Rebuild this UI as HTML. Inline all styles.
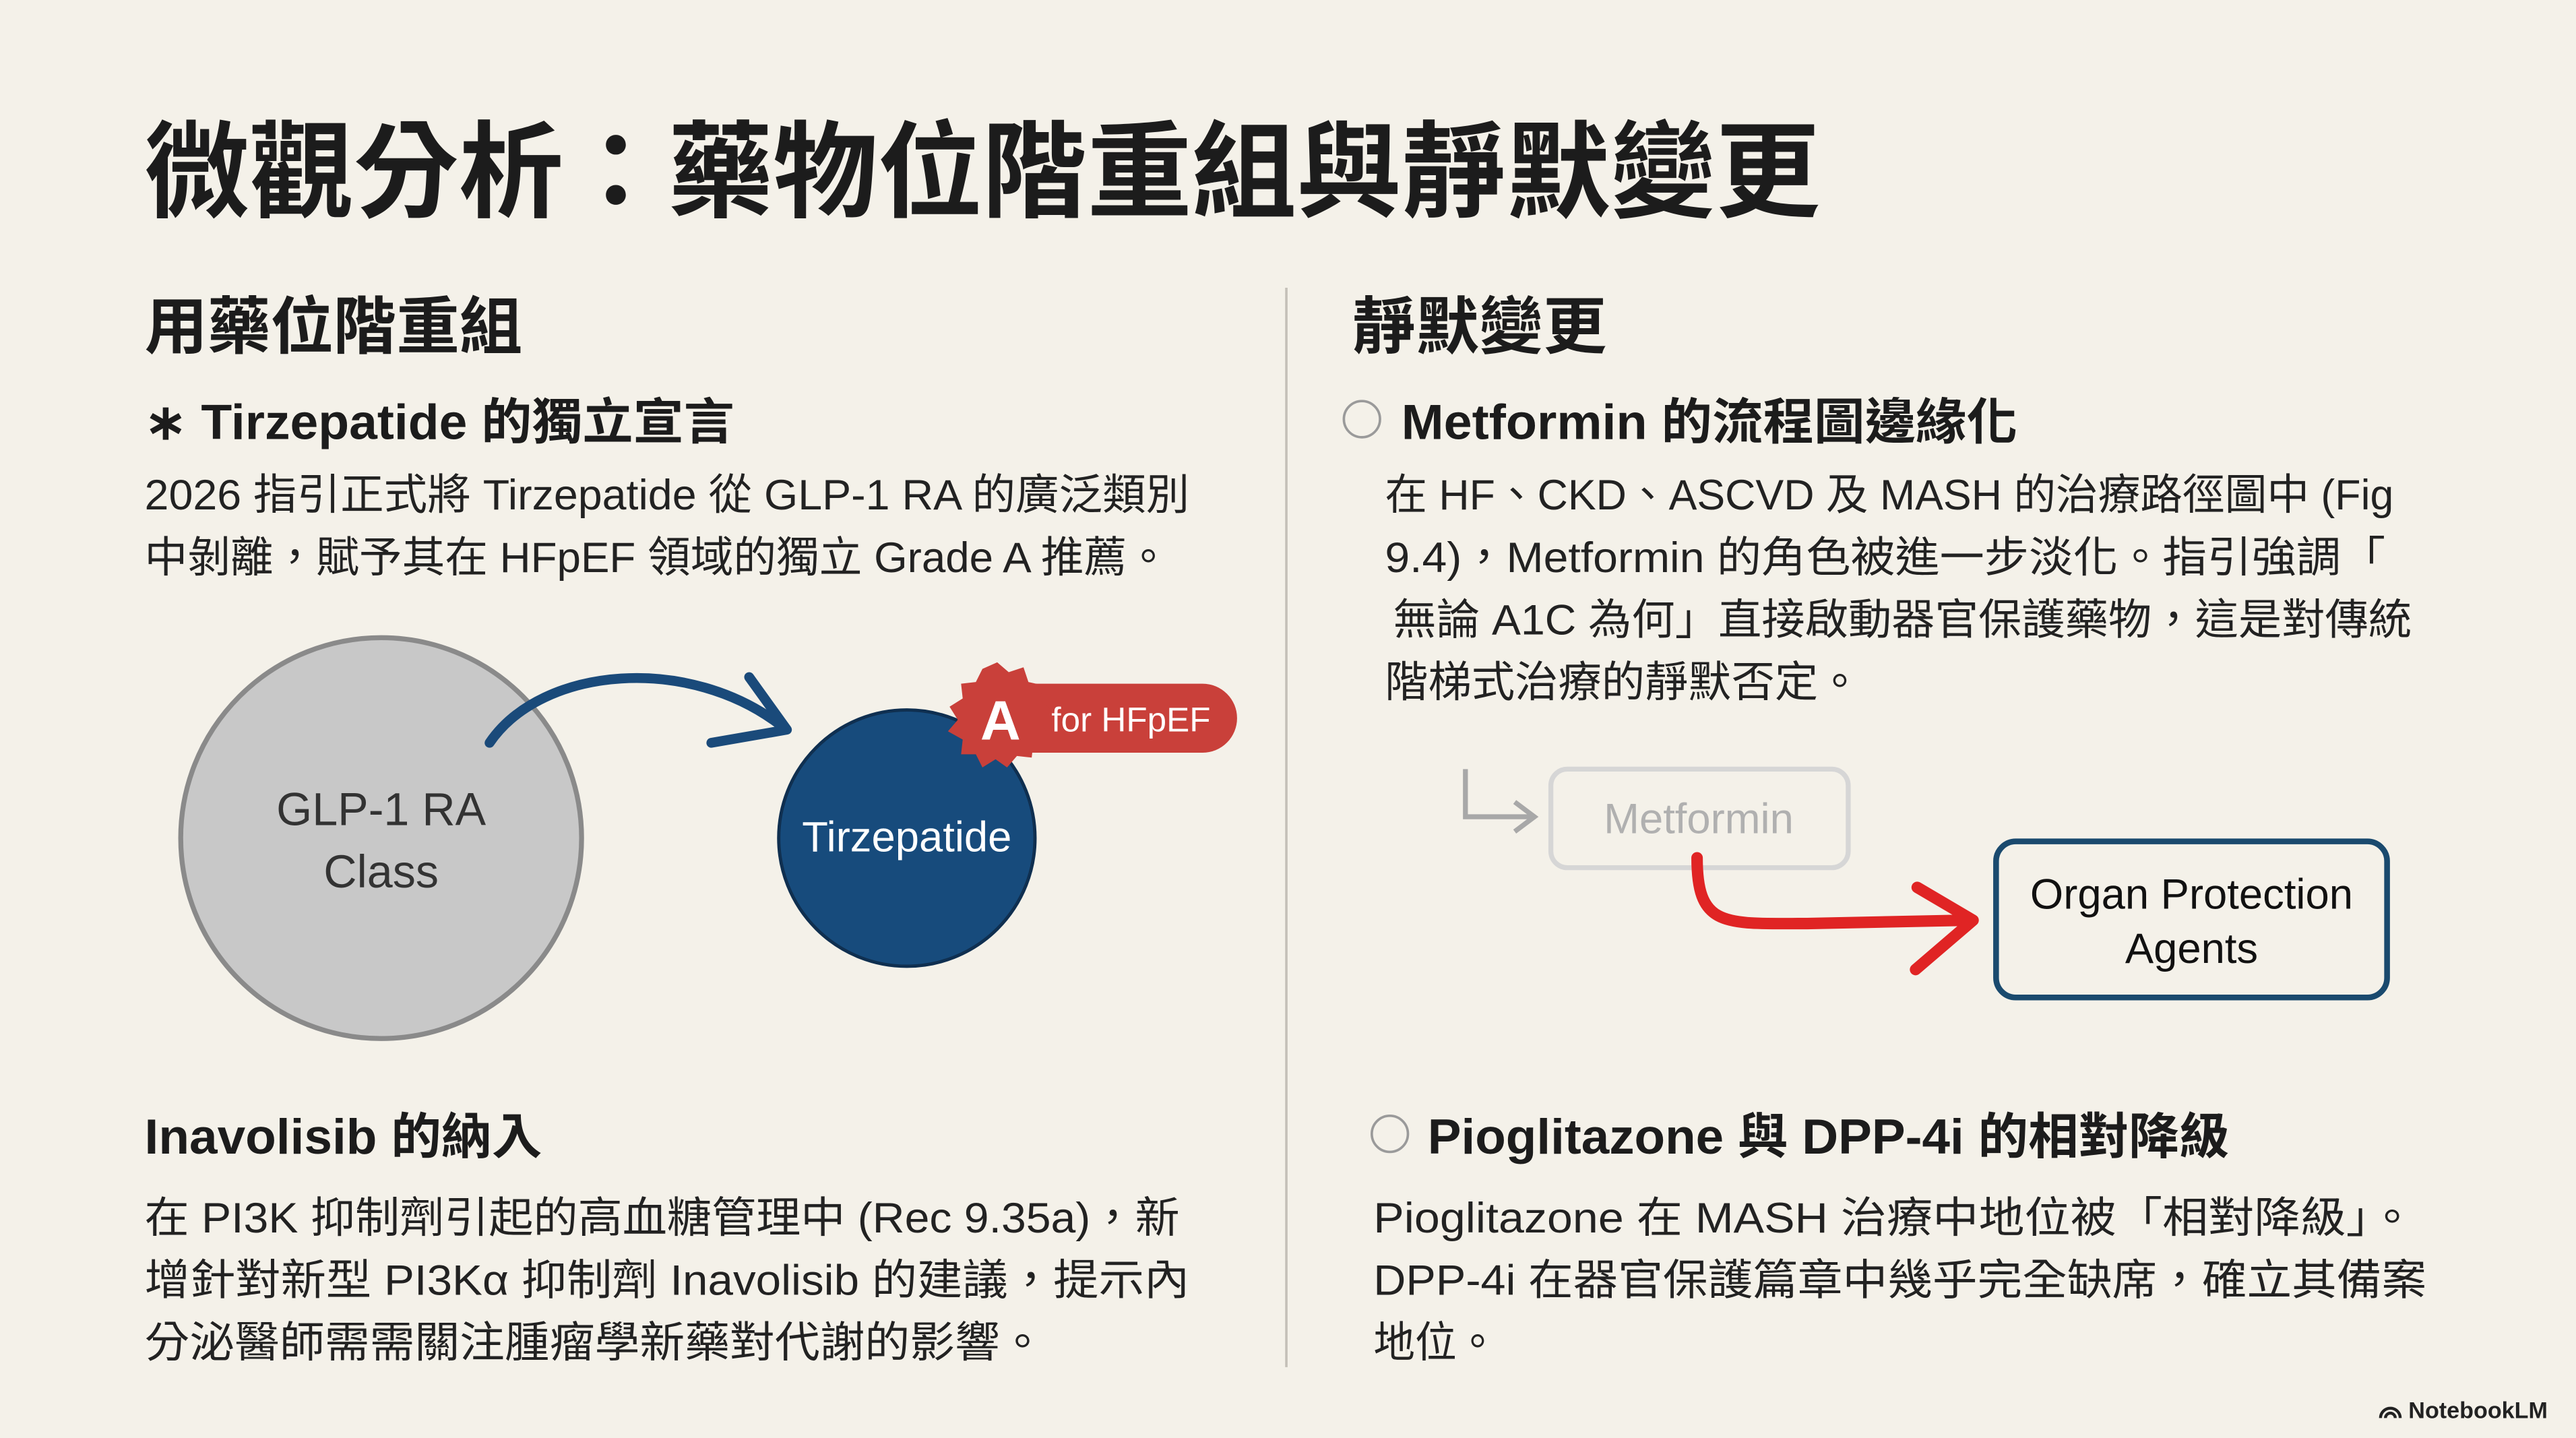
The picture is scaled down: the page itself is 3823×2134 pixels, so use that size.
<!DOCTYPE html>
<html><head><meta charset="utf-8">
<style>
html,body{margin:0;padding:0;background:#f4f1e9;}
svg{display:block;}
text{font-family:"Liberation Sans","Noto Sans CJK TC",sans-serif;}
</style></head>
<body>
<svg width="3823" height="2134" viewBox="0 0 1568 875" xmlns="http://www.w3.org/2000/svg">
<rect width="1568" height="875" fill="#f4f1e9"/>
<!-- title -->
<text x="88" y="127" font-size="64" font-weight="bold" fill="#1c1c1c" textLength="1020" lengthAdjust="spacingAndGlyphs">微觀分析：藥物位階重組與靜默變更</text>
<!-- divider -->
<line x1="783" y1="175" x2="783" y2="832" stroke="#c4c0b8" stroke-width="1.5"/>
<!-- left headings -->
<text x="88" y="212" font-size="38" font-weight="bold" fill="#1c1c1c" textLength="230" lengthAdjust="spacingAndGlyphs">用藥位階重組</text>
<text x="88" y="267" font-size="30" font-weight="bold" fill="#1c1c1c" textLength="359" lengthAdjust="spacingAndGlyphs">∗ Tirzepatide 的獨立宣言</text>
<g font-size="26" fill="#222">
<text x="88" y="310" textLength="636" lengthAdjust="spacingAndGlyphs">2026 指引正式將 Tirzepatide 從 GLP-1 RA 的廣泛類別</text>
<text x="88" y="348" textLength="624" lengthAdjust="spacingAndGlyphs">中剝離，賦予其在 HFpEF 領域的獨立 Grade A 推薦。</text>
</g>
<!-- left diagram -->
<circle cx="232" cy="510" r="122" fill="#c8c8c8" stroke="#8a8a8a" stroke-width="3"/>
<text x="232" y="502" font-size="28" fill="#333" text-anchor="middle">GLP-1 RA</text>
<text x="232" y="540" font-size="28" fill="#333" text-anchor="middle">Class</text>
<path d="M298,452 C330,405 420,398 476,442" fill="none" stroke="#1a4a7a" stroke-width="6" stroke-linecap="round"/>
<path d="M456,412 L479,444 L433,452" fill="none" stroke="#1a4a7a" stroke-width="6" stroke-linecap="round" stroke-linejoin="round"/>
<circle cx="552" cy="510" r="78" fill="#174b7c" stroke="#0f2f50" stroke-width="2"/>
<text x="552" y="518" font-size="26" fill="#fff" text-anchor="middle">Tirzepatide</text>
<rect x="600" y="416" width="153" height="42" rx="21" fill="#c9403a"/>
<polygon fill="#c9403a" points="607,403 614,409 623,406 626,415 635,417 633,426 640,432 634,439 638,448 629,452 628,461 619,460 613,467 606,462 598,467 594,459 585,459 586,450 577,445 583,438 578,430 586,425 585,416 594,415 598,407"/>
<text x="609" y="450" font-size="34" font-weight="bold" fill="#fff" text-anchor="middle">A</text>
<text x="640" y="445" font-size="21" fill="#fff">for HFpEF</text>
<!-- bottom left -->
<text x="88" y="702" font-size="30" font-weight="bold" fill="#1c1c1c" textLength="242" lengthAdjust="spacingAndGlyphs">Inavolisib 的納入</text>
<g font-size="26" fill="#222">
<text x="88" y="750" textLength="630" lengthAdjust="spacingAndGlyphs">在 PI3K 抑制劑引起的高血糖管理中 (Rec 9.35a)，新</text>
<text x="88" y="788" textLength="636" lengthAdjust="spacingAndGlyphs">增針對新型 PI3Kα 抑制劑 Inavolisib 的建議，提示內</text>
<text x="88" y="826" textLength="548" lengthAdjust="spacingAndGlyphs">分泌醫師需需關注腫瘤學新藥對代謝的影響。</text>
</g>
<!-- right headings -->
<text x="823" y="212" font-size="38" font-weight="bold" fill="#1c1c1c" textLength="155" lengthAdjust="spacingAndGlyphs">靜默變更</text>
<circle cx="829" cy="255" r="11" fill="none" stroke="#9a9a9a" stroke-width="1.5"/>
<text x="853" y="267" font-size="30" font-weight="bold" fill="#1c1c1c" textLength="375" lengthAdjust="spacingAndGlyphs">Metformin 的流程圖邊緣化</text>
<g font-size="26" fill="#222">
<text x="843" y="310" textLength="614" lengthAdjust="spacingAndGlyphs">在 HF、CKD、ASCVD 及 MASH 的治療路徑圖中 (Fig</text>
<text x="843" y="348" textLength="609" lengthAdjust="spacingAndGlyphs">9.4)，Metformin 的角色被進一步淡化。指引強調「</text>
<text x="848" y="386" textLength="620" lengthAdjust="spacingAndGlyphs">無論 A1C 為何」直接啟動器官保護藥物，這是對傳統</text>
<text x="843" y="424" textLength="290" lengthAdjust="spacingAndGlyphs">階梯式治療的靜默否定。</text>
</g>
<!-- right diagram -->
<path d="M892,468 L892,497 L932,497" fill="none" stroke="#a8a8a8" stroke-width="3"/>
<path d="M922,488 L934,497 L922,506" fill="none" stroke="#a8a8a8" stroke-width="3"/>
<rect x="944" y="468" width="181" height="60" rx="10" fill="none" stroke="#d6d6d6" stroke-width="3"/>
<text x="1034" y="507" font-size="26" fill="#b0b0b0" text-anchor="middle">Metformin</text>
<path d="M1033,522 C1033,565 1050,562 1100,562 L1196,560" fill="none" stroke="#e02424" stroke-width="7" stroke-linecap="round"/>
<path d="M1167,540 L1201,560 L1166,590" fill="none" stroke="#e02424" stroke-width="7" stroke-linecap="round" stroke-linejoin="round"/>
<rect x="1215" y="512" width="238" height="95" rx="12" fill="none" stroke="#1a4a6e" stroke-width="3.5"/>
<text x="1334" y="553" font-size="26" fill="#111" text-anchor="middle">Organ Protection</text>
<text x="1334" y="586" font-size="26" fill="#111" text-anchor="middle">Agents</text>
<!-- bottom right -->
<circle cx="846" cy="690" r="11" fill="none" stroke="#9a9a9a" stroke-width="1.5"/>
<text x="869" y="702" font-size="30" font-weight="bold" fill="#1c1c1c" textLength="488" lengthAdjust="spacingAndGlyphs">Pioglitazone 與 DPP-4i 的相對降級</text>
<g font-size="26" fill="#222">
<text x="836" y="750" textLength="634" lengthAdjust="spacingAndGlyphs">Pioglitazone 在 MASH 治療中地位被「相對降級」。</text>
<text x="836" y="788" textLength="641" lengthAdjust="spacingAndGlyphs">DPP-4i 在器官保護篇章中幾乎完全缺席，確立其備案</text>
<text x="836" y="826" textLength="76" lengthAdjust="spacingAndGlyphs">地位。</text>
</g>
<!-- logo -->
<path d="M1449,863 a6,6 0 0 1 12,0 M1452,863 a3,3 0 0 1 6,0" fill="none" stroke="#222" stroke-width="1.8"/>
<text x="1466" y="863" font-size="14" font-weight="bold" fill="#222">NotebookLM</text>
</svg>
</body></html>
